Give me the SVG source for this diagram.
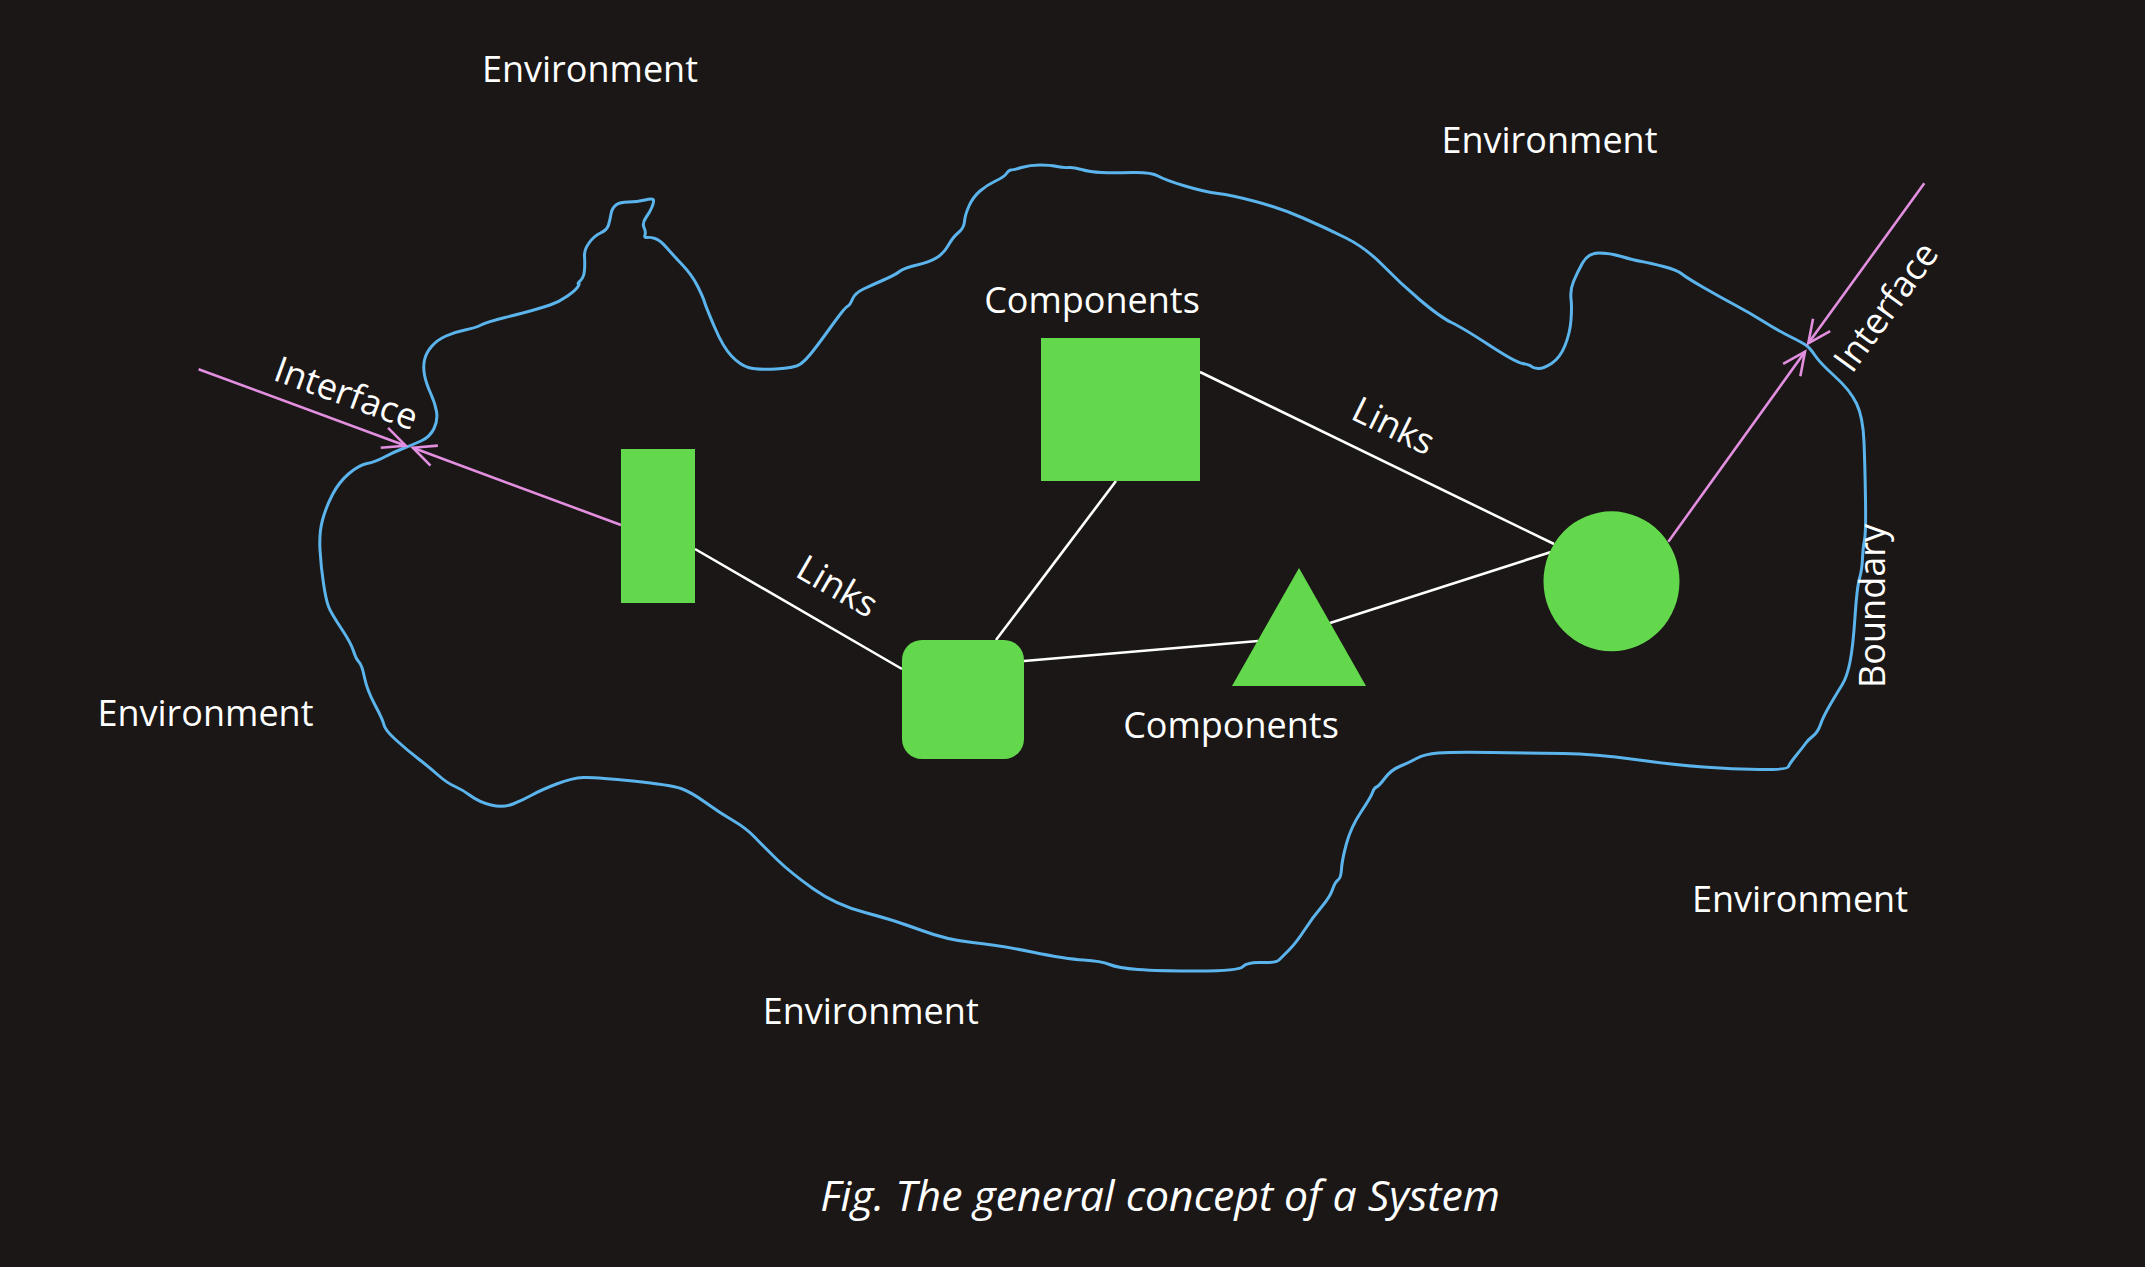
<svg xmlns="http://www.w3.org/2000/svg" width="2145" height="1267" viewBox="0 0 2145 1267">
<style>
.lbl{font-family:"Open Sans","Noto Sans","DejaVu Sans",sans-serif;font-size:36px;fill:#ffffff;text-anchor:middle}
.cap{font-family:"Open Sans","Noto Sans","DejaVu Sans",sans-serif;font-size:42.7px;font-style:italic;fill:#ffffff;text-anchor:middle}
.node{fill:#64d84c}
.link{stroke:#ffffff;stroke-width:2.6;fill:none}
.iface{stroke:#e38fe0;stroke-width:2.6;fill:none}
.bound{stroke:#5cb4ec;stroke-width:3;fill:none;stroke-linejoin:round;stroke-linecap:round}
</style>
<defs>
<marker id="vhead" markerUnits="userSpaceOnUse" viewBox="-26 -14 28 28" refX="0" refY="0" markerWidth="28" markerHeight="28" orient="auto" overflow="visible">
<path d="M-22.7,-10.6 L0,0 L-22.7,10.6" fill="none" stroke="#e38fe0" stroke-width="2.6"/>
</marker>
</defs>
<rect width="2145" height="1267" fill="#1a1716"/>
<g id="boundary">
<path class="bound" d="M403,448.5 Q412,445 421,441 Q430,437 434,428.5 Q438,420 436.5,411.5 Q435,403 430.5,393 Q426,383 424.5,375 Q423,367 424.5,360 Q426,353 431.5,346.5 Q437,340 446,336 Q455,332 465,330 Q475,328 481,325 Q487,322 505,317.5 Q523,313 532,310.5 Q541,308 550,305 Q559,302 567.5,296 Q576,290 578,286.5 Q580,283 578.5,283.5 Q577,284 580.5,280.5 Q584,277 584.5,270 Q585,263 584.5,256.5 Q584,250 589,243 Q594,236 600.5,233 Q607,230 608.5,225 Q610,220 611,214 Q612,208 616,205 Q620,202 628.5,202 Q637,202 645,200 Q653,198 653.5,200 Q654,202 652,207 Q650,212 646,217.5 Q642,223 644,227.5 Q646,232 645,235 Q644,238 647,237.5 Q650,237 655,238.5 Q660,240 666.5,247.5 Q673,255 682.5,265 Q692,275 697.5,286 Q703,297 704.5,302 Q706,307 714.5,327 Q723,347 731.5,356 Q740,365 748.5,367.5 Q757,370 776,369 Q795,368 800.5,364 Q806,360 813,351 Q820,342 829,329.5 Q838,317 842,312 Q846,307 848,306 Q850,305 852.5,299 Q855,293 863.5,289 Q872,285 883.5,280 Q895,275 899.5,271.5 Q904,268 917,265 Q930,262 937,257.5 Q944,253 948.5,245 Q953,237 958.5,232.5 Q964,228 964.5,221.5 Q965,215 969,206 Q973,197 980,191 Q987,185 995.5,181 Q1004,177 1006.5,173.5 Q1009,170 1011,170 Q1013,170 1021.5,167.5 Q1030,165 1040,165 Q1050,165 1057,166.5 Q1064,168 1068.5,167.5 Q1073,167 1081.5,169.5 Q1090,172 1101.5,172.5 Q1113,173 1132,172.5 Q1151,172 1158,176 Q1165,180 1185,186 Q1205,192 1218,193.5 Q1231,195 1255.5,201.5 Q1280,208 1303,218 Q1326,228 1346,238 Q1366,248 1383,265.5 Q1400,283 1420,300 Q1440,317 1451.5,322.5 Q1463,328 1489,345 Q1515,362 1522.5,363.5 Q1530,365 1531.5,366.5 Q1533,368 1538,368.5 Q1543,369 1551.5,363.5 Q1560,358 1565,345.5 Q1570,333 1571,320 Q1572,307 1571,298.5 Q1570,290 1573.5,281.5 Q1577,273 1582.5,263 Q1588,253 1599,253 Q1610,253 1621.5,256.5 Q1633,260 1641.5,261.5 Q1650,263 1663.5,266.5 Q1677,270 1682,274 Q1687,278 1703.5,287.5 Q1720,297 1735,305 Q1750,313 1763.5,321.5 Q1777,330 1790,336.5 Q1803,343 1806.5,345.5 Q1810,348 1815,355.5 Q1820,363 1835,376.5 Q1850,390 1856.5,403.5 Q1863,417 1864,442 Q1865,467 1865.5,500 Q1866,533 1864.5,540 Q1863,547 1862.5,558.5 Q1862,570 1859.5,578.5 Q1857,587 1855,617 Q1853,647 1850,662 Q1847,677 1842,685 Q1837,693 1830,705 Q1823,717 1820.5,724.5 Q1818,732 1813,736 Q1808,740 1805.5,743.5 Q1803,747 1796.5,755 Q1790,763 1788.5,766.5 Q1787,770 1759.5,769.5 Q1732,769 1703.5,767 Q1675,765 1635,759.5 Q1595,754 1563,753.5 Q1531,753 1491,752.5 Q1451,752 1438,753 Q1425,754 1416.5,758.5 Q1408,763 1399.5,766.5 Q1391,770 1385,778 Q1379,786 1376.5,787 Q1374,788 1372.5,792.5 Q1371,797 1361,812 Q1351,827 1346.5,843.5 Q1342,860 1341.5,869 Q1341,878 1338,880 Q1335,882 1332.5,889.5 Q1330,897 1321.5,907 Q1313,917 1304.5,930 Q1296,943 1289,950 Q1282,957 1279,960 Q1276,963 1261.5,962.5 Q1247,962 1243,966.5 Q1239,971 1198.5,971 Q1158,971 1138,969.5 Q1118,968 1109.5,964.5 Q1101,961 1083.5,960 Q1066,959 1032,952 Q998,945 972.5,942.5 Q947,940 920.5,930 Q894,920 865,912.5 Q836,905 813.5,889 Q791,873 777.5,860 Q764,847 755,837.5 Q746,828 733,820.5 Q720,813 705.5,802.5 Q691,792 681,788.5 Q671,785 633,781 Q595,777 583.5,777.5 Q572,778 556.5,784 Q541,790 532,795 Q523,800 513,804 Q503,808 491,805 Q479,802 471,796 Q463,790 455,786.5 Q447,783 438,775 Q429,767 418,758.5 Q407,750 396,740 Q385,730 384,725 Q383,720 375,705 Q367,690 364.5,677.5 Q362,665 359,662 Q356,659 353.5,651 Q351,643 341,628 Q331,613 328.5,606.5 Q326,600 323.5,583.5 Q321,567 320,550 Q319,533 322.5,520 Q326,507 332.5,494.5 Q339,482 349,473.5 Q359,465 367,463.5 Q375,462 384.5,457 Q394,452 403,448.5 Z"/>
</g>
<g id="connectors">
<line class="link" x1="695" y1="549" x2="902" y2="669"/>
<line class="link" x1="1116" y1="481" x2="996" y2="640"/>
<line class="link" x1="1024" y1="661" x2="1258" y2="641"/>
<line class="link" x1="1330" y1="623" x2="1551" y2="552"/>
<line class="link" x1="1200" y1="372" x2="1554" y2="544"/>
<line class="iface" x1="198.6" y1="369.3" x2="405.7" y2="445.7" marker-end="url(#vhead)"/>
<line class="iface" x1="621" y1="525" x2="412.9" y2="447.7" marker-end="url(#vhead)"/>
<line class="iface" x1="1924.3" y1="183.3" x2="1808.3" y2="343.3" marker-end="url(#vhead)"/>
<line class="iface" x1="1668.3" y1="541.7" x2="1805" y2="351.7" marker-end="url(#vhead)"/>
</g>
<g id="node-rect-tall"><rect class="node" x="621" y="449" width="74" height="154"/></g>
<g id="node-square"><rect class="node" x="1041" y="338" width="159" height="143"/></g>
<g id="node-rounded"><rect class="node" x="902" y="640" width="122" height="119" rx="20" ry="20"/></g>
<g id="node-triangle"><polygon class="node" points="1299,568 1232,686 1366,686"/></g>
<g id="node-circle"><ellipse class="node" cx="1611.5" cy="581.3" rx="68" ry="70"/></g>
<g id="labels">
<text class="lbl" x="590" y="81.7">Environment</text>
<text class="lbl" x="1549.5" y="153.3">Environment</text>
<text class="lbl" x="205.5" y="726">Environment</text>
<text class="lbl" x="1800" y="911.6">Environment</text>
<text class="lbl" x="870.7" y="1024.4">Environment</text>
<text class="lbl" x="1092" y="312.7">Components</text>
<text class="lbl" x="1231" y="738">Components</text>
<text class="lbl" transform="translate(831,597) rotate(30)">Links</text>
<text class="lbl" transform="translate(1388,437) rotate(26)">Links</text>
<text class="lbl" transform="translate(342,405) rotate(20)">Interface</text>
<text class="lbl" transform="translate(1896,314) rotate(-54)">Interface</text>
<text class="lbl" transform="translate(1885,606) rotate(-90)">Boundary</text>
<text class="cap" x="1160" y="1211">Fig. The general concept of a System</text>
</g>
</svg>
